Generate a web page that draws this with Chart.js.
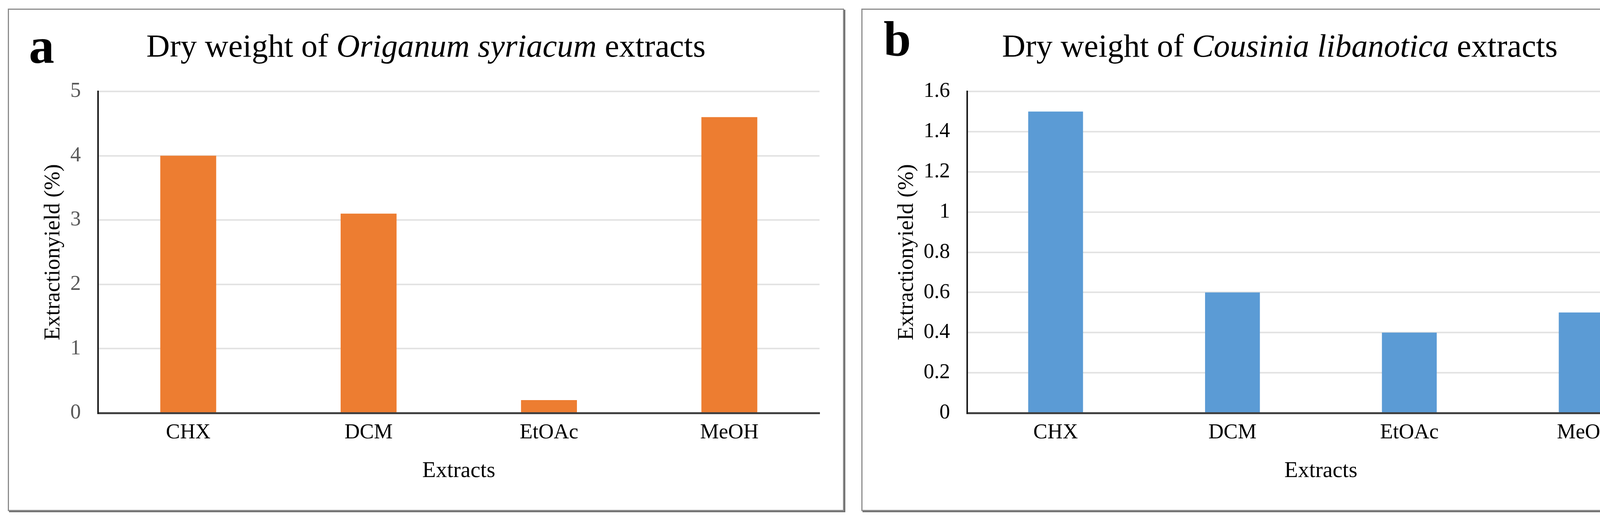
<html>
<head>
<script src="https://cdn.jsdelivr.net/npm/chart.js@4"></script>
<style>
  body { margin:0; width:4375px; height:1336px; background:#fff; position:relative; overflow:hidden;
         font-family:'Liberation Serif', 'Times New Roman', serif; }
  .panel { position:absolute; box-sizing:border-box; border:3px solid #8c8c8c; box-shadow:3px 3px 0 #6e6e6e; background:#fff; }
  .title { position:absolute; text-align:center; font-size:83px; line-height:1; color:#000; white-space:nowrap; }
  .tag { position:absolute; font-weight:bold; line-height:1; color:#000; }
  canvas { position:absolute; }
</style>
</head>
<body>
<div class="panel" style="left:20px; top:22px; width:2141px; height:1286px;"></div>
<div class="panel" style="left:2205px; top:22px; width:2143px; height:1286px;"></div>

<canvas id="chartA" width="2141" height="1286" style="left:20px; top:22px; width:2141px; height:1286px;"></canvas>
<canvas id="chartB" width="2143" height="1286" style="left:2205px; top:22px; width:2143px; height:1286px;"></canvas>

<div class="tag" style="left:74px; top:52px; font-size:130px;">a</div>
<div class="tag" style="left:2262px; top:37px; font-size:126px;">b</div>
<div class="title" style="left:20px; width:2141px; top:76px;">Dry weight of <i>Origanum syriacum</i> extracts</div>
<div class="title" style="left:2205px; width:2143px; top:76px;">Dry weight of <i>Cousinia libanotica</i> extracts</div>

<script>
// values
const categories = ['CHX', 'DCM', 'EtOAc', 'MeOH'];
const origanumYield = [4.0, 3.1, 0.2, 4.6];
const cousiniaYield = [1.5, 0.6, 0.4, 0.5];
const origanumTicks = [0, 1, 2, 3, 4, 5];
const cousiniaTicks = [0, 0.2, 0.4, 0.6, 0.8, 1, 1.2, 1.4, 1.6];

Chart.defaults.font.family = "'Liberation Serif', 'Times New Roman', serif";
Chart.defaults.color = '#000';

function makeChart(id, values, ticks, color, yTickColor, yWidth, padRight) {
  var step = ticks[1] - ticks[0];
  return new Chart(document.getElementById(id), {
    type: 'bar',
    data: {
      labels: categories,
      datasets: [{
        data: values,
        backgroundColor: color,
        borderWidth: 0,
        categoryPercentage: 1,
        barPercentage: 0.31
      }]
    },
    options: {
      responsive: false,
      animation: false,
      layout: { padding: { top: 212, right: padRight, bottom: 0, left: 0 } },
      plugins: { legend: { display: false }, tooltip: { enabled: false } },
      scales: {
        x: {
          grid: { display: false, drawTicks: false },
          border: { display: true, color: '#404040', width: 5 },
          ticks: { font: { size: 54 }, color: '#000', padding: 18 },
          title: { display: true, text: 'Extracts', font: { size: 57 }, color: '#000', padding: { top: 0, bottom: 68 } },
          afterFit: function (s) { s.height = 251; }
        },
        y: {
          min: ticks[0],
          max: ticks[ticks.length - 1],
          grid: { color: '#e3e3e3', lineWidth: 4, drawTicks: false },
          border: { display: true, color: '#1a1a1a', width: 4 },
          ticks: {
            stepSize: step, font: { size: 54 }, color: yTickColor, padding: 44,
            callback: function (v) { return String(Number(v.toFixed(1))); }
          },
          title: { display: true, text: 'Extractionyield (%)', font: { size: 57 }, color: '#000', padding: { top: 83, bottom: 0 } },
          afterFit: function (s) { s.width = yWidth; }
        }
      }
    }
  });
}

makeChart('chartA', origanumYield, origanumTicks, '#ED7D31', '#595959', 231, 63);
makeChart('chartB', cousiniaYield, cousiniaTicks, '#5B9BD5', '#000', 271, 61);
</script>
</body>
</html>
